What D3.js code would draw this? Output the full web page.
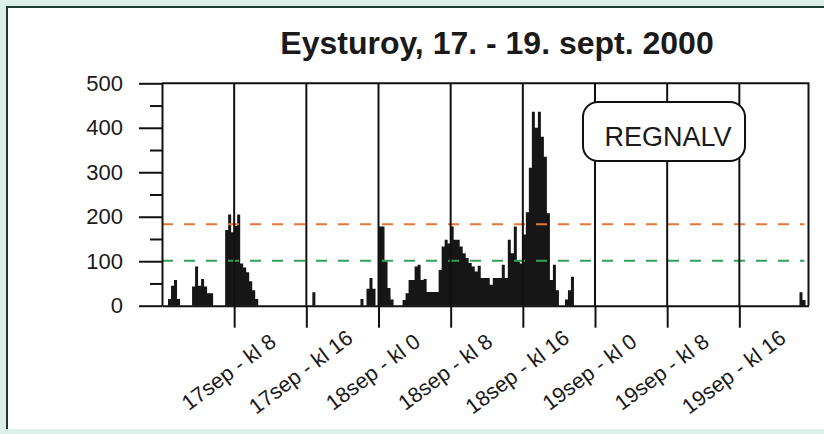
<!DOCTYPE html>
<html>
<head>
<meta charset="utf-8">
<script src="https://cdn.jsdelivr.net/npm/d3@7"></script>
<style>
  html, body { margin: 0; padding: 0; background: #dcefe8; }
  svg { display: block; font-family: "Liberation Sans", Arial, sans-serif; }
</style>
</head>
<body>
<script>
// rain amount per 20 minutes, one array per day (bin 0 = kl 0:00)
const day17 = [0,0,15,45,58,15,0,0,0,0, 43,88,45,60,43,28,28,0,0,0,
               0,170,205,165,180,205,95,86,75,55, 35,15,0,0,0,0,0,0,0,0,
               0,0,0,0,0,0,0,0,0,0, 30,0,0,0,0,0,0,0,0,0,
               0,0,0,0,0,0,15,0,38,62, 38,0];
const day18 = [178,178,100,40,14,0,0,0,13,28, 58,58,88,92,58,60,31,31,31,31,
               80,133,148,140,178,148,148,133,118,107, 96,88,77,90,62,62,62,47,62,62,
               62,92,62,148,118,178,100,95,160,210, 310,436,400,436,380,335,208,58,92,35,
               0,0,14,35,65,0,0,0,0,0, 0,0];
const day19 = [0,0,0,0,0,0,0,0,0,0, 0,0,0,0,0,0,0,0,0,0,
               0,0,0,0,0,0,0,0,0,0, 0,0,0,0,0,0,0,0,0,0,
               0,0,0,0,0,0,0,0,0,0, 0,0,0,0,0,0,0,0,0,0,
               0,0,0,0,0,0,0,0,30,13, 0];
const binHours = 1 / 3;

const tickHours = [8, 16, 24, 32, 40, 48, 56, 64];
const tickLabels = ["17sep - kl 8", "17sep - kl 16", "18sep - kl 0", "18sep - kl 8",
                    "18sep - kl 16", "19sep - kl 0", "19sep - kl 8", "19sep - kl 16"];
const yMajor = [0, 100, 200, 300, 400, 500];
const yMinor = [50, 150, 250, 350, 450];
const thresholdValues = [183, 101];
const thresholdColors = ["#e2773a", "#35a05a"];

const title = "Eysturoy, 17. - 19. sept. 2000";
const boxLabel = "REGNALV";

const width = 824, height = 434;
const plotLeft = 162, plotRight = 808.5, plotTop = 83.3, plotBottom = 305.7;

const values = day17.concat(day18, day19);
const nBins = values.length;

const svg = d3.select("body").append("svg").attr("width", width).attr("height", height);

// page frame
svg.append("rect").attr("x", 0).attr("y", 0).attr("width", width).attr("height", height).attr("fill", "#dcefe8");
svg.append("rect").attr("x", 7).attr("y", 7).attr("width", width - 7).attr("height", 422).attr("fill", "#ffffff");
svg.append("path").attr("d", "M7,429V7H824").attr("fill", "none").attr("stroke", "#1f3b33").attr("stroke-width", 2);

const xScale = d3.scaleLinear().domain([0, nBins * binHours]).range([plotLeft, plotRight]);
const yScale = d3.scaleLinear().domain([0, 500]).range([plotBottom, plotTop]);

// bars, drawn as one stepped area so neighbouring bins join without seams
const stepData = values.map((v, i) => ({h: i * binHours, v: v}));
stepData.push({h: nBins * binHours, v: 0});
const area = d3.area()
  .x(d => xScale(d.h))
  .y0(yScale(0))
  .y1(d => yScale(d.v))
  .curve(d3.curveStepAfter);
svg.append("path").datum(stepData).attr("d", area).attr("fill", "#161616");

// threshold lines
thresholdValues.forEach((t, i) => {
  svg.append("line")
    .attr("x1", plotLeft).attr("x2", plotRight - 4)
    .attr("y1", yScale(t)).attr("y2", yScale(t))
    .attr("stroke", thresholdColors[i]).attr("stroke-width", 2)
    .attr("stroke-dasharray", "11,11");
});

// vertical lines every 8 hours
svg.append("g").selectAll("line").data(tickHours).enter().append("line")
  .attr("x1", d => xScale(d)).attr("x2", d => xScale(d))
  .attr("y1", plotTop).attr("y2", plotBottom)
  .attr("stroke", "#111").attr("stroke-width", 2);

// frame of plot
svg.append("path")
  .attr("d", `M${plotLeft},${plotTop}H${plotRight}V${plotBottom}`)
  .attr("fill", "none").attr("stroke", "#111").attr("stroke-width", 2);

// x axis
const xAxis = d3.axisBottom(xScale).tickValues(tickHours).tickSize(22).tickSizeOuter(0)
  .tickFormat((d, i) => tickLabels[i]);
const gx = svg.append("g").attr("transform", `translate(0,${plotBottom})`).call(xAxis);
gx.select(".domain").attr("stroke", "#111").attr("stroke-width", 2);
gx.selectAll(".tick line").attr("stroke", "#111").attr("stroke-width", 2);
gx.selectAll(".tick text")
  .attr("x", -2).attr("y", 0).attr("dy", 0)
  .attr("text-anchor", "middle")
  .attr("transform", "translate(0,71) rotate(-37)")
  .attr("font-size", 21.5).attr("fill", "#1a1a1a")
  .attr("font-family", "'Liberation Sans', Arial, sans-serif");

// y axis
const yAxis = d3.axisLeft(yScale).tickValues(yMajor).tickSize(23).tickSizeOuter(0).tickPadding(16);
const gy = svg.append("g").attr("transform", `translate(${plotLeft},0)`).call(yAxis);
gy.select(".domain").attr("stroke", "#111").attr("stroke-width", 2);
gy.selectAll(".tick line").attr("stroke", "#111").attr("stroke-width", 2);
gy.selectAll(".tick text").attr("font-size", 22).attr("fill", "#1a1a1a")
  .attr("font-family", "'Liberation Sans', Arial, sans-serif");

const yMinorAxis = d3.axisLeft(yScale).tickValues(yMinor).tickSize(12).tickFormat("");
const gym = svg.append("g").attr("transform", `translate(${plotLeft},0)`).call(yMinorAxis);
gym.select(".domain").remove();
gym.selectAll(".tick line").attr("stroke", "#111").attr("stroke-width", 2);

// title
svg.append("text")
  .attr("x", 497).attr("y", 54)
  .attr("text-anchor", "middle")
  .attr("font-size", 32).attr("font-weight", "bold").attr("fill", "#1a1a1a")
  .text(title);

// label box
svg.append("rect")
  .attr("x", 583).attr("y", 102).attr("width", 162).attr("height", 59)
  .attr("rx", 15).attr("ry", 15)
  .attr("fill", "#fff").attr("stroke", "#111").attr("stroke-width", 2);
svg.append("text")
  .attr("x", 668).attr("y", 146)
  .attr("text-anchor", "middle")
  .attr("font-size", 27).attr("fill", "#1a1a1a")
  .text(boxLabel);
</script>
</body>
</html>
